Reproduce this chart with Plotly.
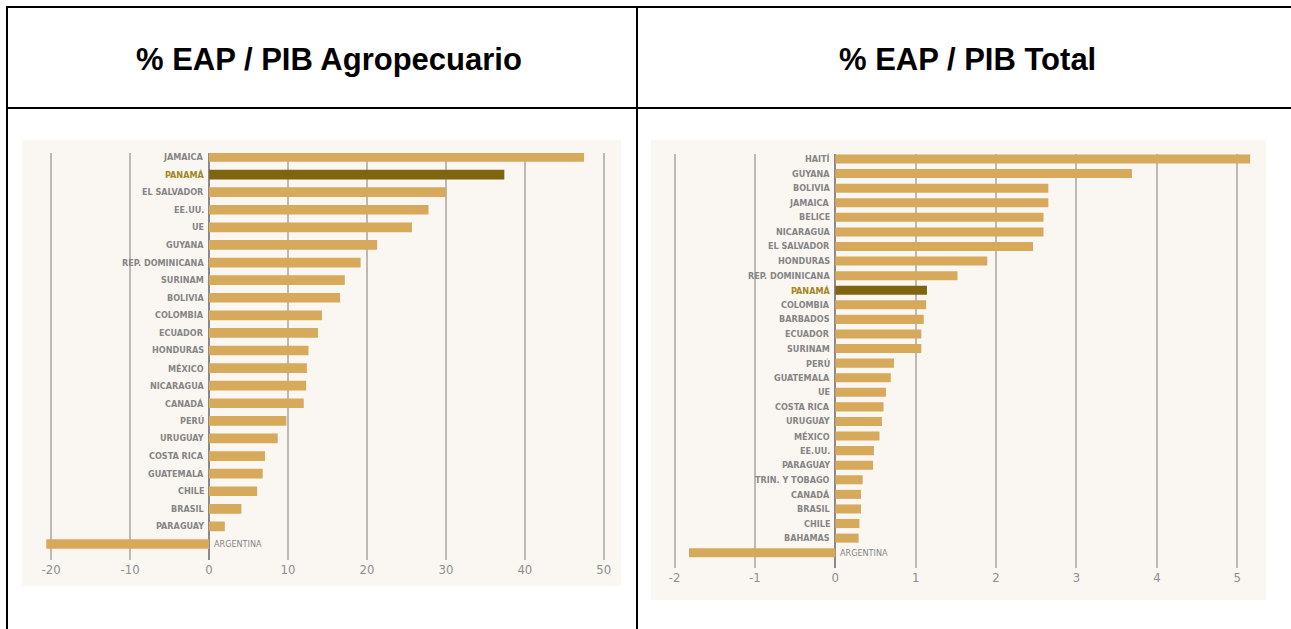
import plotly.graph_objects as go

# ---------------- data ----------------
agro_countries = ["JAMAICA", "PANAMÁ", "EL SALVADOR", "EE.UU.", "UE", "GUYANA",
                  "REP. DOMINICANA", "SURINAM", "BOLIVIA", "COLOMBIA", "ECUADOR",
                  "HONDURAS", "MÉXICO", "NICARAGUA", "CANADÁ", "PERÚ", "URUGUAY",
                  "COSTA RICA", "GUATEMALA", "CHILE", "BRASIL", "PARAGUAY", "ARGENTINA"]
agro_values = [47.5, 37.4, 30.0, 27.8, 25.7, 21.3, 19.2, 17.2, 16.6, 14.3, 13.8,
               12.6, 12.4, 12.3, 12.0, 9.8, 8.7, 7.1, 6.8, 6.1, 4.1, 2.0, -20.6]

total_countries = ["HAITÍ", "GUYANA", "BOLIVIA", "JAMAICA", "BELICE", "NICARAGUA",
                   "EL SALVADOR", "HONDURAS", "REP. DOMINICANA", "PANAMÁ", "COLOMBIA",
                   "BARBADOS", "ECUADOR", "SURINAM", "PERÚ", "GUATEMALA", "UE",
                   "COSTA RICA", "URUGUAY", "MÉXICO", "EE.UU.", "PARAGUAY",
                   "TRIN. Y TOBAGO", "CANADÁ", "BRASIL", "CHILE", "BAHAMAS", "ARGENTINA"]
total_values = [5.16, 3.69, 2.65, 2.65, 2.59, 2.59, 2.46, 1.89, 1.52, 1.14, 1.13,
                1.10, 1.07, 1.07, 0.73, 0.69, 0.63, 0.60, 0.58, 0.55, 0.48, 0.47,
                0.34, 0.32, 0.32, 0.30, 0.29, -1.82]

agro_ticks = [-20, -10, 0, 10, 20, 30, 40, 50]
total_ticks = [-2, -1, 0, 1, 2, 3, 4, 5]

titles = ["% EAP / PIB Agropecuario", "% EAP / PIB Total"]
highlight = "PANAMÁ"

# ---------------- styles ----------------
W, H = 1291, 629
BAR = "#d6a95b"
BAR_HI = "#7f6510"
LBL = "#858585"
LBL_HI = "#a08720"
GRID = "#bdbab6"
PANEL = "#faf7f3"
COND = "DejaVu Sans Condensed, Liberation Sans Narrow, Arial Narrow, sans-serif"


def px(x):
    return x / W


def py(y):
    return 1 - y / H


fig = go.Figure()

fig.add_trace(go.Bar(
    x=agro_values, y=agro_countries, orientation="h", width=0.55,
    marker=dict(color=[BAR_HI if c == highlight else BAR for c in agro_countries], line_width=0),
    xaxis="x", yaxis="y", showlegend=False, hoverinfo="x+y"))
fig.add_trace(go.Bar(
    x=total_values, y=total_countries, orientation="h", width=0.62,
    marker=dict(color=[BAR_HI if c == highlight else BAR for c in total_countries], line_width=0),
    xaxis="x2", yaxis="y2", showlegend=False, hoverinfo="x+y"))

annotations = []
for cats, vals, xr, yr in [(agro_countries, agro_values, "x", "y"),
                           (total_countries, total_values, "x2", "y2")]:
    for c, v in zip(cats, vals):
        neg = v < 0
        annotations.append(dict(
            x=0, y=c, xref=xr, yref=yr, text=c, showarrow=False,
            xanchor="left" if neg else "right", xshift=3 if neg else -3,
            font=dict(family=COND, size=9, weight="normal" if neg else "bold",
                      color=LBL_HI if c == highlight else LBL)))

# headers
for t, cx in zip(titles, [329, 967]):
    annotations.append(dict(x=px(cx), y=py(60), xref="paper", yref="paper", text=t,
                            showarrow=False, xanchor="center", yanchor="middle",
                            font=dict(family="Liberation Sans, Arial, sans-serif", size=31,
                                      weight="bold", color="#000")))

shapes = [
    # chart panels
    dict(type="rect", xref="paper", yref="paper", x0=px(22), x1=px(621), y0=py(586), y1=py(140),
         fillcolor=PANEL, line_width=0, layer="below"),
    dict(type="rect", xref="paper", yref="paper", x0=px(651), x1=px(1266), y0=py(600), y1=py(140),
         fillcolor=PANEL, line_width=0, layer="below"),
    # table borders
    dict(type="line", xref="paper", yref="paper", x0=px(6), x1=1, y0=py(7), y1=py(7),
         line=dict(color="#000", width=2)),
    dict(type="line", xref="paper", yref="paper", x0=px(6), x1=1, y0=py(108), y1=py(108),
         line=dict(color="#000", width=2)),
    dict(type="line", xref="paper", yref="paper", x0=px(7), x1=px(7), y0=py(6), y1=0,
         line=dict(color="#000", width=2)),
    dict(type="line", xref="paper", yref="paper", x0=px(637), x1=px(637), y0=py(6), y1=0,
         line=dict(color="#000", width=2)),
]

# axis geometry
x0_left, sc_left = 209.0, 7.896      # px of zero, px per unit
x0_right, sc_right = 835.3, 80.39
xl = [-23.0, 52.0]
xr2 = [-2.2, 5.35]

tickfont = dict(family=COND, size=13, color="#8e8e8e")

fig.update_layout(
    width=W, height=H, margin=dict(l=0, r=0, t=0, b=0),
    paper_bgcolor="white", plot_bgcolor="rgba(0,0,0,0)",
    bargap=0.4, annotations=annotations, shapes=shapes,
    xaxis=dict(domain=[px(x0_left + xl[0] * sc_left), px(x0_left + xl[1] * sc_left)],
               range=xl, tickvals=agro_ticks, ticktext=[str(v) for v in agro_ticks],
               showgrid=True, gridcolor=GRID, gridwidth=1.5,
               zeroline=True, zerolinecolor="#8a8a8a", zerolinewidth=1.5,
               tickfont=tickfont, ticks="", anchor="y", fixedrange=True),
    yaxis=dict(domain=[py(560), py(153)], type="category", categoryorder="array",
               categoryarray=agro_countries, range=[22.91, -0.227],
               showticklabels=False, showgrid=False, zeroline=False, anchor="x", fixedrange=True),
    xaxis2=dict(domain=[px(x0_right + xr2[0] * sc_right), px(x0_right + xr2[1] * sc_right)],
                range=xr2, tickvals=total_ticks, ticktext=[str(v) for v in total_ticks],
                showgrid=True, gridcolor=GRID, gridwidth=1.5,
                zeroline=True, zerolinecolor="#8a8a8a", zerolinewidth=1.5,
                tickfont=tickfont, ticks="", anchor="y2", fixedrange=True),
    yaxis2=dict(domain=[py(568), py(154)], type="category", categoryorder="array",
                categoryarray=total_countries, range=[28.05, -0.343],
                showticklabels=False, showgrid=False, zeroline=False, anchor="x2", fixedrange=True),
)

fig.write_html("out.html", config={"displayModeBar": False},
               post_script="document.body.style.margin='0';document.body.style.overflow='hidden';")
